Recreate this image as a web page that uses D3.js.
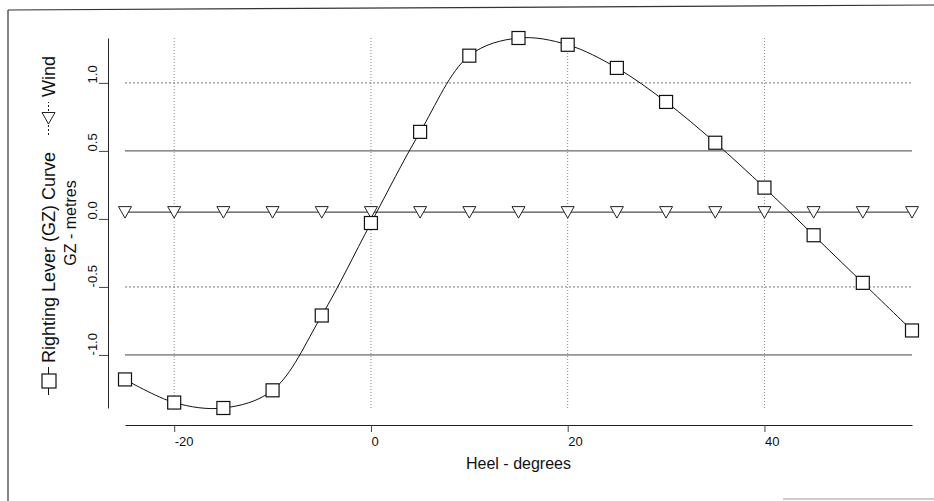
<!DOCTYPE html>
<html>
<head>
<meta charset="utf-8">
<script src="https://cdn.jsdelivr.net/npm/d3@7"></script>
<style>
  body { margin: 0; background: #fff; }
  svg { display: block; font-family: "Liberation Sans", Arial, sans-serif; }
</style>
</head>
<body>
<svg width="934" height="501"></svg>
<script>
/* ================================ Data ================================*/
// Heel angle in degrees
let heel = [-25, -20, -15, -10, -5, 0, 5, 10, 15, 20, 25, 30, 35, 40, 45, 50, 55];

// Righting lever (GZ) in metres
let gz = [-1.18, -1.35, -1.39, -1.26, -0.71, -0.03, 0.64, 1.20, 1.33, 1.28, 1.11, 0.86, 0.56, 0.23, -0.12, -0.47, -0.82];

// Wind heeling lever, constant
let wind = [0.05, 0.05, 0.05, 0.05, 0.05, 0.05, 0.05, 0.05, 0.05, 0.05, 0.05, 0.05, 0.05, 0.05, 0.05, 0.05, 0.05];

let xTicks = [-20, 0, 20, 40];
let yTicks = [-1.0, -0.5, 0.0, 0.5, 1.0];
let yGridSolid  = [-1.0, 0.5];
let yGridDotted = [-0.5, 1.0];

/* ================================ Setup ================================*/
let svg = d3.select("svg");

// Page frame (scanned sheet edges)
svg.append("line").attr("x1", 8).attr("y1", 10).attr("x2", 8).attr("y2", 501)
   .attr("stroke", "#333").attr("stroke-width", 1.2);
svg.append("line").attr("x1", 8).attr("y1", 10).attr("x2", 934).attr("y2", 5)
   .attr("stroke", "#333").attr("stroke-width", 1.2);
svg.append("line").attr("x1", 783).attr("y1", 499).attr("x2", 934).attr("y2", 499)
   .attr("stroke", "#999").attr("stroke-width", 1);

let x = d3.scaleLinear()
          .domain(d3.extent(heel))
          .range([125, 912]);

let y = d3.scaleLinear()
          .domain(d3.extent(gz))
          .range([408, 38]);

let fmt = d => d.toFixed(1);

/* ================================ Grid ================================*/
let grid = svg.append("g").attr("class", "grid");

grid.selectAll(".hSolid")
    .data(yGridSolid)
    .enter()
    .append("line")
    .attr("x1", x.range()[0]).attr("x2", x.range()[1])
    .attr("y1", d => y(d)).attr("y2", d => y(d))
    .attr("stroke", "#444").attr("stroke-width", 1);

grid.selectAll(".hDot")
    .data(yGridDotted)
    .enter()
    .append("line")
    .attr("x1", x.range()[0]).attr("x2", x.range()[1])
    .attr("y1", d => y(d)).attr("y2", d => y(d))
    .attr("stroke", "#777").attr("stroke-width", 1)
    .attr("stroke-dasharray", "2,2");

grid.selectAll(".vDot")
    .data(xTicks)
    .enter()
    .append("line")
    .attr("x1", d => x(d)).attr("x2", d => x(d))
    .attr("y1", y.range()[0]).attr("y2", y.range()[1])
    .attr("stroke", "#888").attr("stroke-width", 1)
    .attr("stroke-dasharray", "1,2");

/* ================================ Axes ================================*/
let xAxis = svg.append("g")
    .attr("transform", "translate(0, 425)")
    .call(d3.axisBottom(x).tickValues(xTicks).tickSize(7).tickSizeOuter(0).tickFormat(d => d));

xAxis.select(".domain").attr("stroke", "#222");
xAxis.selectAll(".tick line").attr("stroke", "#444");
xAxis.selectAll(".tick text")
     .attr("text-anchor", "start")
     .attr("x", 0)
     .attr("y", 12)
     .attr("font-size", 13)
     .attr("fill", "#111");

let yAxis = svg.append("g")
    .attr("transform", "translate(108, 0)")
    .call(d3.axisLeft(y).tickValues(yTicks).tickSize(9).tickSizeOuter(0).tickFormat(fmt));

yAxis.select(".domain").attr("stroke", "#222");
yAxis.selectAll(".tick line").attr("stroke", "#444");
yAxis.selectAll(".tick text")
     .attr("transform", "rotate(-90)")
     .attr("text-anchor", "start")
     .attr("x", 0)
     .attr("y", -11)
     .attr("dy", 0)
     .attr("font-size", 13)
     .attr("fill", "#111");

// Axis titles
svg.append("text")
   .attr("x", (x.range()[0] + x.range()[1]) / 2)
   .attr("y", 469)
   .attr("text-anchor", "middle")
   .attr("font-size", 16)
   .attr("fill", "#111")
   .text("Heel - degrees");

let yMid = (y.range()[0] + y.range()[1]) / 2;

svg.append("text")
   .attr("transform", "translate(76," + yMid + ") rotate(-90)")
   .attr("text-anchor", "middle")
   .attr("font-size", 16)
   .attr("fill", "#111")
   .text("GZ - metres");

/* ================================ Series ================================*/
let points = heel.map((h, i) => ({ h: h, gz: gz[i], wind: wind[i] }));

let windLine = d3.line().x(d => x(d.h)).y(d => y(d.wind));
let gzLine   = d3.line().x(d => x(d.h)).y(d => y(d.gz)).curve(d3.curveCatmullRom);

svg.append("path")
   .datum(points)
   .attr("d", windLine)
   .attr("fill", "none")
   .attr("stroke", "#222")
   .attr("stroke-width", 1);

svg.append("path")
   .datum(points)
   .attr("d", gzLine)
   .attr("fill", "none")
   .attr("stroke", "#111")
   .attr("stroke-width", 1);

// Down triangle marker
let tri = "M-6.5,-5.5L6.5,-5.5L0,6Z";

svg.selectAll(".windMark")
   .data(points)
   .enter()
   .append("path")
   .attr("transform", d => "translate(" + x(d.h) + "," + y(d.wind) + ")")
   .attr("d", tri)
   .attr("fill", "#fff")
   .attr("stroke", "#222")
   .attr("stroke-width", 1);

svg.selectAll(".gzMark")
   .data(points)
   .enter()
   .append("rect")
   .attr("x", d => x(d.h) - 6.5)
   .attr("y", d => y(d.gz) - 6.5)
   .attr("width", 13)
   .attr("height", 13)
   .attr("fill", "#fff")
   .attr("stroke", "#111")
   .attr("stroke-width", 1.2);

/* ================================ Legend (rotated) ================================*/
let legend = svg.append("g")
    .attr("transform", "translate(55," + yMid + ") rotate(-90)");

// GZ entry: line with square, then label
legend.append("line")
      .attr("x1", -172).attr("x2", -144).attr("y1", -6.5).attr("y2", -6.5)
      .attr("stroke", "#111");
legend.append("rect")
      .attr("x", -165).attr("y", -13).attr("width", 14).attr("height", 14)
      .attr("fill", "#fff").attr("stroke", "#111").attr("stroke-width", 1.2);
legend.append("text")
      .attr("x", -140).attr("y", 0)
      .attr("font-size", 18).attr("fill", "#111")
      .text("Righting Lever (GZ) Curve");

// Wind entry: dotted line with triangle, then label
legend.append("line")
      .attr("x1", 88).attr("x2", 121).attr("y1", -6.5).attr("y2", -6.5)
      .attr("stroke", "#222").attr("stroke-dasharray", "2,2");
legend.append("path")
      .attr("transform", "translate(105,-6.5) rotate(90)")
      .attr("d", tri)
      .attr("fill", "#fff").attr("stroke", "#222");
legend.append("text")
      .attr("x", 126).attr("y", 0)
      .attr("font-size", 18).attr("fill", "#111")
      .text("Wind");
</script>
</body>
</html>
